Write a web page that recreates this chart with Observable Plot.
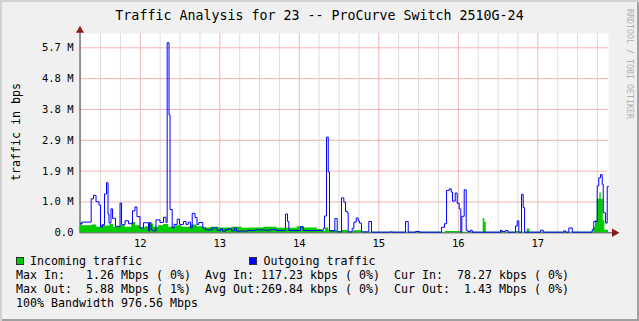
<!DOCTYPE html>
<html><head><meta charset="utf-8">
<script src="https://cdn.jsdelivr.net/npm/d3@7"></script>
<script src="https://cdn.jsdelivr.net/npm/@observablehq/plot@0.6"></script>
<style>
html,body{margin:0;padding:0;background:#F0F0F0;}
#wrap{position:relative;width:639px;height:321px;background:#F0F0F0;overflow:hidden;font-family:"DejaVu Sans Mono",monospace;}
#wrap svg{position:absolute;left:0;top:0;}
.t{position:absolute;white-space:pre;color:#000;line-height:14px;font-size:11.63px;}
.box{position:absolute;width:8px;height:8px;box-sizing:border-box;border:1px solid #303030;}
#frame{position:absolute;left:0;top:0;width:639px;height:321px;box-sizing:border-box;box-shadow:inset 2px 2px 0 #D2D2D2, inset -2px -2px 0 #A0A0A0;pointer-events:none;}
</style></head>
<body>
<div id="wrap">
  <div id="chart"></div>
  <div class="t" id="title" style="left:0;width:639px;top:8px;line-height:16px;font-size:13.3px;text-align:center;"></div>
  <div class="t" id="ylab" style="left:16px;top:132px;transform:translate(-50%,-50%) rotate(-90deg);"></div>
  <div class="t" id="wm" style="left:628.5px;top:64px;font-size:8.3px;line-height:9px;color:#B0B0B0;transform:translate(-50%,-50%) rotate(90deg);"></div>
  <div class="box" style="left:16px;top:257px;background:#00CC00;"></div>
  <div class="t" id="lg1" style="left:30px;top:253.7px;"></div>
  <div class="box" style="left:249px;top:257px;background:#0000FF;"></div>
  <div class="t" id="lg2" style="left:263.5px;top:253.7px;"></div>
  <div class="t" id="rows" style="left:16px;top:267.7px;"></div>
  <div id="frame"></div>
</div>
<script>
const titleText = "Traffic Analysis for 23 -- ProCurve Switch 2510G-24";
const yTitle = "traffic in bps";
const watermark = "RRDTOOL / TOBI OETIKER";
const seriesNames = ["Incoming traffic", "Outgoing traffic"];
const seriesColors = ["#00CC00", "#0000FF"];
const statRows = [
  "Max In:   1.26 Mbps ( 0%)  Avg In: 117.23 kbps ( 0%)  Cur In:  78.27 kbps ( 0%)",
  "Max Out:  5.88 Mbps ( 1%)  Avg Out:269.84 kbps ( 0%)  Cur Out:  1.43 Mbps ( 0%)",
  "100% Bandwidth 976.56 Mbps"
];

// x: day of month (decimal days); y: M bits per second
const xDomain = [11.2415, 17.889];
const yDomain = [0, 6.164];
const dayTicks = [12, 13, 14, 15, 16, 17];
const dayLabels = ["12", "13", "14", "15", "16", "17"];
const yTicks = [0, 0.9537, 1.9073, 2.861, 3.8147, 4.7684, 5.722];
const yLabels = ["0.0", "1.0 M", "1.9 M", "2.9 M", "3.8 M", "4.8 M", "5.7 M"];
const minorTicks = d3.range(11.25, 17.9, 0.25).filter(d => !Number.isInteger(d));

// Outgoing traffic [day, Mbps] (step changes)
const outgoing = [
  [11.245,0.28],[11.267,0.33],[11.382,1.05],[11.411,1.16],[11.443,0.96],[11.480,0.86],[11.499,0.18],[11.525,0.25],[11.550,1.20],[11.575,1.55],
  [11.594,0.58],[11.606,0.30],[11.631,0.74],[11.650,0.45],[11.688,0.20],[11.745,0.92],[11.764,0.25],[11.808,0.37],[11.852,0.28],[11.902,0.68],
  [11.933,0.80],[11.958,0.50],[11.996,0.15],[12.040,0.31],[12.103,0.06],[12.116,0.32],[12.135,0.10],[12.153,0.06],[12.197,0.40],[12.248,0.32],
  [12.292,0.48],[12.323,0.32],[12.338,5.88],[12.361,3.65],[12.374,0.72],[12.401,0.15],[12.424,0.26],[12.464,0.42],[12.493,0.26],[12.543,0.35],
  [12.575,0.26],[12.603,0.33],[12.631,0.15],[12.653,0.60],[12.688,0.47],[12.713,0.26],[12.736,0.32],[12.786,0.15],[12.820,0.09],[12.904,0.15],
  [12.967,0.07],[13.009,0.12],[13.034,0.05],[13.072,0.10],[13.109,0.13],[13.147,0.06],[13.184,0.15],[13.210,0.05],[13.260,0.05],[13.348,0.07],
  [13.449,0.09],[13.550,0.08],[13.638,0.10],[13.713,0.07],[13.826,0.58],[13.852,0.35],[13.868,0.07],[14.015,0.19],[14.049,0.07],[14.301,0.14],
  [14.317,0.52],[14.342,2.96],[14.364,1.88],[14.380,0.06],[14.447,0.44],[14.477,0.03],[14.531,1.08],[14.560,0.95],[14.581,0.66],[14.603,0.62],
  [14.615,0.03],[14.665,0.14],[14.686,0.33],[14.716,0.46],[14.741,0.37],[14.757,0.30],[14.782,0.03],[14.874,0.35],[14.908,0.02],[15.147,0.03],
  [15.172,0.02],[15.336,0.35],[15.370,0.02],[15.462,0.04],[15.512,0.02],[15.789,0.17],[15.826,0.28],[15.852,1.31],[15.886,1.36],[15.911,1.26],
  [15.927,0.98],[15.961,1.23],[15.986,0.91],[16.011,0.74],[16.031,0.02],[16.044,0.51],[16.074,1.33],[16.099,0.08],[16.119,0.04],[16.153,0.08],
  [16.175,0.02],[16.531,0.07],[16.552,0.04],[16.594,0.07],[16.625,0.02],[16.720,0.21],[16.741,0.37],[16.761,0.02],[16.795,1.19],[16.816,0.78],
  [16.833,0.02],[17.035,0.08],[17.068,0.02],[17.327,0.06],[17.348,0.02],[17.390,0.15],[17.433,0.02],[17.684,0.10],[17.704,0.35],[17.747,1.45],
  [17.767,1.70],[17.789,1.80],[17.810,1.50],[17.823,0.62],[17.852,0.30],[17.873,1.43],[17.889,1.43]
];

// Incoming traffic [day, Mbps]
const incoming = [
  [11.245,0.19],[11.255,0.33],[11.273,0.22],[11.390,0.24],[11.453,0.17],[11.508,0.24],[11.558,0.21],[11.621,0.26],[11.663,0.17],[11.747,0.22],
  [11.810,0.17],[11.893,0.32],[11.943,0.22],[11.999,0.15],[12.062,0.19],[12.125,0.27],[12.166,0.17],[12.229,0.22],[12.292,0.26],[12.358,0.17],
  [12.443,0.22],[12.527,0.17],[12.631,0.24],[12.716,0.19],[12.799,0.15],[12.883,0.17],[12.987,0.15],[13.156,0.17],[13.282,0.14],[13.386,0.15],
  [13.553,0.17],[13.722,0.14],[13.974,0.19],[14.057,0.15],[14.225,0.10],[14.288,0.04],[14.330,0.15],[14.371,0.07],[14.477,0.03],[14.531,0.07],
  [14.619,0.02],[14.682,0.06],[14.795,0.02],[15.839,0.04],[16.037,0.02],[16.313,0.44],[16.333,0.33],[16.351,0.02],[16.531,0.08],[16.556,0.02],
  [16.720,0.04],[16.770,0.02],[16.867,0.12],[16.899,0.02],[17.704,0.16],[17.726,0.37],[17.747,1.04],[17.780,1.24],[17.797,1.04],[17.823,0.37],
  [17.843,0.08],[17.889,0.08]
];

const inData = incoming.map(([t, v]) => ({t, v}));
const outData = outgoing.map(([t, v]) => ({t, v}));

const axisColor = "#404040";
const arrowColor = "#8B1A1A";

const chart = Plot.plot({
  width: 639,
  height: 321,
  marginLeft: 79.5,
  marginRight: 31,
  marginTop: 33,
  marginBottom: 88.7,
  style: {background: "transparent", fontFamily: "'DejaVu Sans Mono', monospace", fontSize: "10.5px", color: "#000", overflow: "visible"},
  x: {domain: xDomain, axis: null},
  y: {domain: yDomain, axis: null},
  marks: [
    Plot.frame({fill: "white", stroke: "none"}),
    Plot.ruleX(minorTicks, {stroke: "#DEDEDE"}),
    Plot.ruleX(dayTicks, {stroke: "#F2B4B4"}),
    Plot.ruleY(yTicks.slice(1), {stroke: "#F2B4B4"}),
    Plot.ruleX([xDomain[0]], {stroke: axisColor, insetTop: -2}),
    Plot.ruleY([0], {stroke: axisColor, insetRight: -4}),
    Plot.areaY(inData, {x: "t", y: "v", curve: "step-after", fill: seriesColors[0]}),
    Plot.lineY(outData, {x: "t", y: "v", curve: "step-after", stroke: seriesColors[1], strokeWidth: 1}),
    Plot.dot([xDomain[1]], {x: d => d, y: () => 0, symbol: "triangle", r: 3.2, fill: arrowColor, stroke: "none", rotate: 90, dx: 6}),
    Plot.dot([xDomain[0]], {x: d => d, y: () => yDomain[1], symbol: "triangle", r: 3, fill: arrowColor, stroke: "none", dy: -3}),
    Plot.axisX(dayTicks, {tickSize: 0, tickPadding: 7, tickFormat: d => dayLabels[dayTicks.indexOf(d)], label: null}),
    Plot.axisY(yTicks, {tickSize: 0, tickPadding: 6.5, tickFormat: d => yLabels[yTicks.indexOf(d)], label: null})
  ]
});
document.getElementById("chart").appendChild(chart);

document.getElementById("title").textContent = titleText;
document.getElementById("ylab").textContent = yTitle;
document.getElementById("wm").textContent = watermark;
document.getElementById("lg1").textContent = seriesNames[0];
document.getElementById("lg2").textContent = seriesNames[1];
document.getElementById("rows").textContent = statRows.join("\n");
</script>
</body></html>
